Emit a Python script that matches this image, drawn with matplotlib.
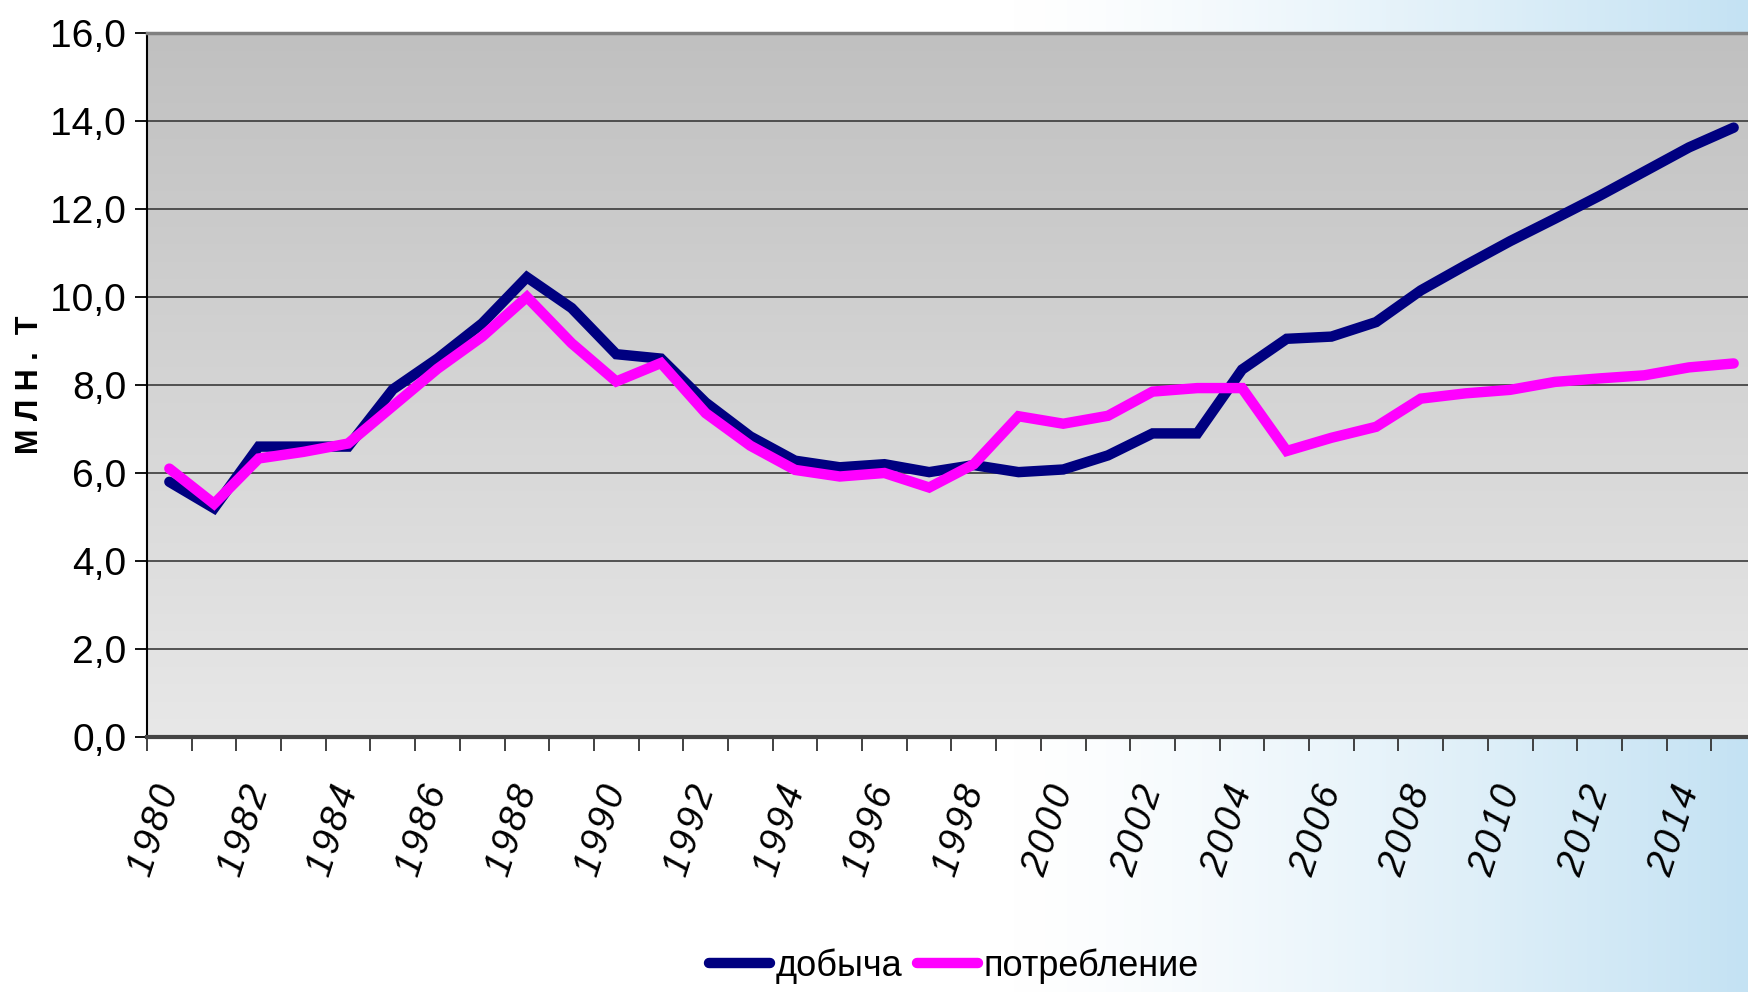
import numpy as np
import matplotlib
matplotlib.use("Agg")
import matplotlib.pyplot as plt
from matplotlib import font_manager
from matplotlib.lines import Line2D

# data, млн. т
years = list(range(1980, 2016))
dobycha = [5.8, 5.2, 6.6, 6.6, 6.6, 7.9, 8.6, 9.4, 10.45, 9.75,
           8.7, 8.6, 7.6, 6.83, 6.28, 6.13, 6.2, 6.02, 6.18, 6.02,
           6.08, 6.4, 6.9, 6.9, 8.35, 9.05, 9.1, 9.43, 10.15, 10.72,
           11.27, 11.78, 12.3, 12.85, 13.4, 13.85]
potreblenie = [6.1, 5.3, 6.33, 6.48, 6.67, 7.52, 8.37, 9.1, 10.0, 8.95,
               8.08, 8.5, 7.36, 6.62, 6.07, 5.92, 6.0, 5.67, 6.2, 7.29,
               7.12, 7.3, 7.85, 7.93, 7.93, 6.5, 6.8, 7.05, 7.69, 7.81,
               7.89, 8.07, 8.15, 8.22, 8.4, 8.49]
series_names = ["добыча", "потребление"]
series_colors = ["#000080", "#FF00FF"]
y_ticks = [0, 2, 4, 6, 8, 10, 12, 14, 16]
y_label = "М Л Н .  Т"

names = {f.name for f in font_manager.fontManager.ttflist}
narrow = "Liberation Sans Narrow" if "Liberation Sans Narrow" in names else "Liberation Sans"
plt.rcParams["font.family"] = ["Liberation Sans", "DejaVu Sans"]

W, H = 1749, 992
fig = plt.figure(figsize=(W / 100, H / 100), dpi=100)

# slide background: white fading to light blue on the right
bg = fig.add_axes([0, 0, 1, 1], zorder=-10)
gx = np.linspace(0, 1, 400)
t = np.clip((gx - 0.58) / 0.42, 0, 1) ** 1.3
blue = np.array([196, 226, 243]) / 255.0
row = (1 - t)[:, None] * np.ones(3) + t[:, None] * blue
bg.imshow(np.tile(row[None, :, :], (50, 1, 1)), aspect="auto", extent=[0, 1, 0, 1])
bg.set_xlim(0, 1)
bg.set_ylim(0, 1)
bg.axis("off")

left, right, top, bottom = 147, 1756, 33, 737
ax = fig.add_axes([left / W, (H - bottom) / H, (right - left) / W, (bottom - top) / H])

x = np.arange(len(years))
ax.set_xlim(-0.5, len(years) - 0.5)
ax.set_ylim(0, 16)

# gray gradient of the plot area
grad = np.linspace(232, 192, 200)[:, None] / 255.0
ax.imshow(np.dstack([grad, grad, grad]), aspect="auto",
          extent=[-0.5, len(years) - 0.5, 0, 16], origin="lower", zorder=0)

for v in y_ticks[1:-1]:
    ax.axhline(v, color="#3a3a3a", lw=1.2, zorder=1)

for vals, name, col in zip([dobycha, potreblenie], series_names, series_colors):
    ax.plot(x, vals, color=col, lw=7.5, solid_capstyle="round",
            solid_joinstyle="miter", label=name, zorder=3)

ax.set_yticks(y_ticks)
ax.set_yticklabels([f"{v:.1f}".replace(".", ",") for v in y_ticks],
                   fontfamily=narrow, fontsize=28)
ax.tick_params(axis="y", direction="out", length=9, width=1.3, pad=6, colors="black")

ax.set_xticks(x[::2])
ax.set_xticklabels(["\u200a".join(str(y)) for y in years[::2]], rotation=72, style="italic",
                   fontsize=27, ha="right", va="center", rotation_mode="anchor")
ax.set_xticks(np.arange(-0.5, len(years), 1), minor=True)
ax.tick_params(axis="x", which="major", length=0, pad=36)
ax.tick_params(axis="x", which="minor", direction="out", length=10, width=1.3, color="#333333")

ax.spines["left"].set_color("black")
ax.spines["left"].set_linewidth(1.5)
ax.spines["bottom"].set_color("#444444")
ax.spines["bottom"].set_linewidth(3)
ax.spines["top"].set_color("#808080")
ax.spines["top"].set_linewidth(2.5)
ax.spines["right"].set_visible(False)

fig.text(30 / W, 1 - 385 / H, y_label, rotation=90, ha="center", va="center",
         fontsize=22, fontweight="bold")

handles = [Line2D([0], [0], color=c, lw=7.5, solid_capstyle="round") for c in series_colors]
fig.legend(handles, series_names, loc="center", bbox_to_anchor=(954 / W, (H - 966) / H),
           ncol=2, frameon=False, handlelength=1.7, handletextpad=0.15, columnspacing=0.4,
           prop={"family": narrow, "size": 26})

fig.savefig("out.png", dpi=100)
